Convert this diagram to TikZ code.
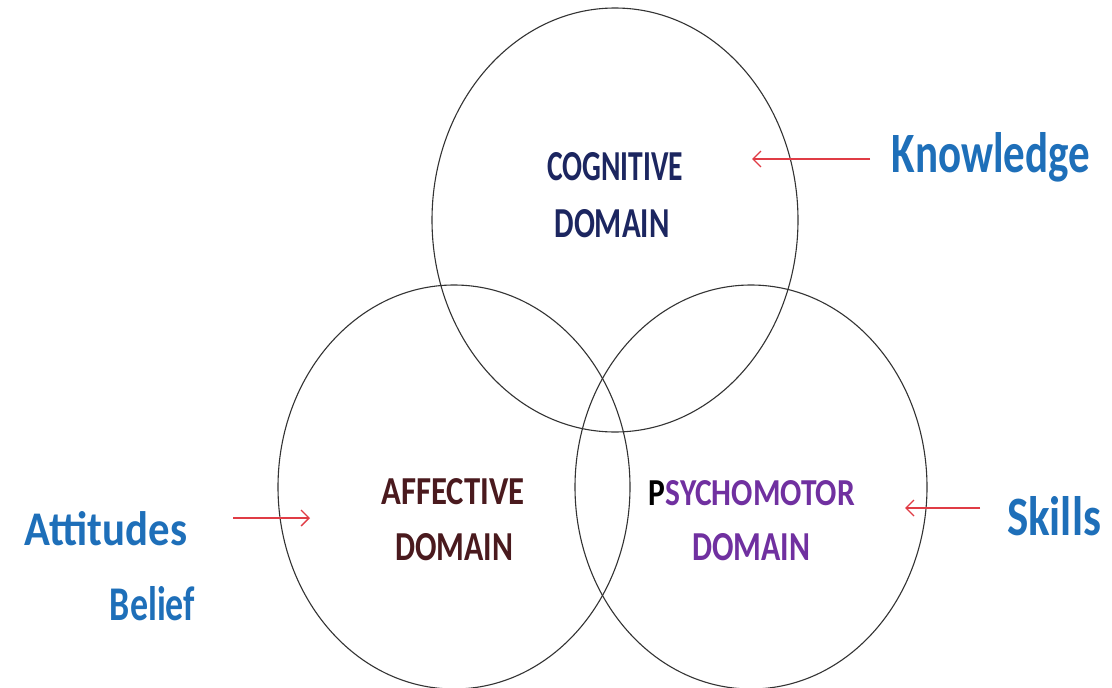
\documentclass[tikz,border=0pt]{standalone}
\usepackage{fontspec}
\setmainfont{Carlito}
\usepackage{graphicx}
\usetikzlibrary{shapes.geometric,arrows.meta}
\definecolor{cogcol}{HTML}{1C2660}
\definecolor{affcol}{HTML}{4A1A1E}
\definecolor{psycol}{HTML}{7030A0}
\definecolor{lblblue}{HTML}{1E6FB9}
\definecolor{arrred}{HTML}{E03C45}
\definecolor{ringcol}{HTML}{333333}
\begin{document}
\begin{tikzpicture}[x=1pt,y=-1pt,
  ring/.style={ellipse,draw=ringcol,line width=1.1pt,inner sep=0pt},
  domtext/.style={anchor=base,inner sep=0pt,font=\bfseries},
  sidetext/.style={anchor=base,inner sep=0pt,font=\bfseries,text=lblblue},
  redarrow/.style={draw=arrred,line width=1.4pt,-{Straight Barb[length=8pt,width=16pt,line width=1.4pt]}}]
\useasboundingbox[fill=white] (0,0) rectangle (1112,688);
% rings
\node[ring,minimum width=366pt,minimum height=424pt] (cogring) at (615,220) {};
\node[ring,minimum width=352pt,minimum height=404pt] (affring) at (454,487) {};
\node[ring,minimum width=352pt,minimum height=404pt] (psyring) at (751,487) {};
% domain labels
\node[domtext,text=cogcol] (cog1) at (615,180) {\resizebox{136pt}{28pt}{COGNITIVE}};
\node[domtext,text=cogcol] (cog2) at (612,237) {\resizebox{115pt}{28pt}{DOMAIN}};
\node[domtext,text=affcol] (aff1) at (453,504) {\resizebox{143pt}{26pt}{AFFECTIVE}};
\node[domtext,text=affcol] (aff2) at (454,560) {\resizebox{118pt}{27pt}{DOMAIN}};
\node[domtext,text=psycol] (psy1) at (752,505) {\resizebox{206pt}{25pt}{{\color{black}P}SYCHOMOTOR}};
\node[domtext,text=psycol] (psy2) at (751,560) {\resizebox{118pt}{27pt}{DOMAIN}};
% side labels
\node[sidetext] (know) at (991,172) {\resizebox{198pt}{40pt}{Knowledge}};
\node[sidetext] (att) at (106,545) {\resizebox{162pt}{34pt}{Attitudes}};
\node[sidetext] (bel) at (152.5,620) {\resizebox{85pt}{34pt}{Belief}};
\node[sidetext] (skl) at (1054,535) {\resizebox{94pt}{39pt}{Skills}};
% arrows
\coordinate (kTail) at (870,159);
\coordinate (kTip) at (752,159);
\coordinate (aTail) at (233,518);
\coordinate (aTip) at (310,518);
\coordinate (sTail) at (980,508);
\coordinate (sTip) at (905,508);
\draw[redarrow] (kTail) -- (kTip);
\draw[redarrow] (aTail) -- (aTip);
\draw[redarrow] (sTail) -- (sTip);
\end{tikzpicture}
\end{document}
